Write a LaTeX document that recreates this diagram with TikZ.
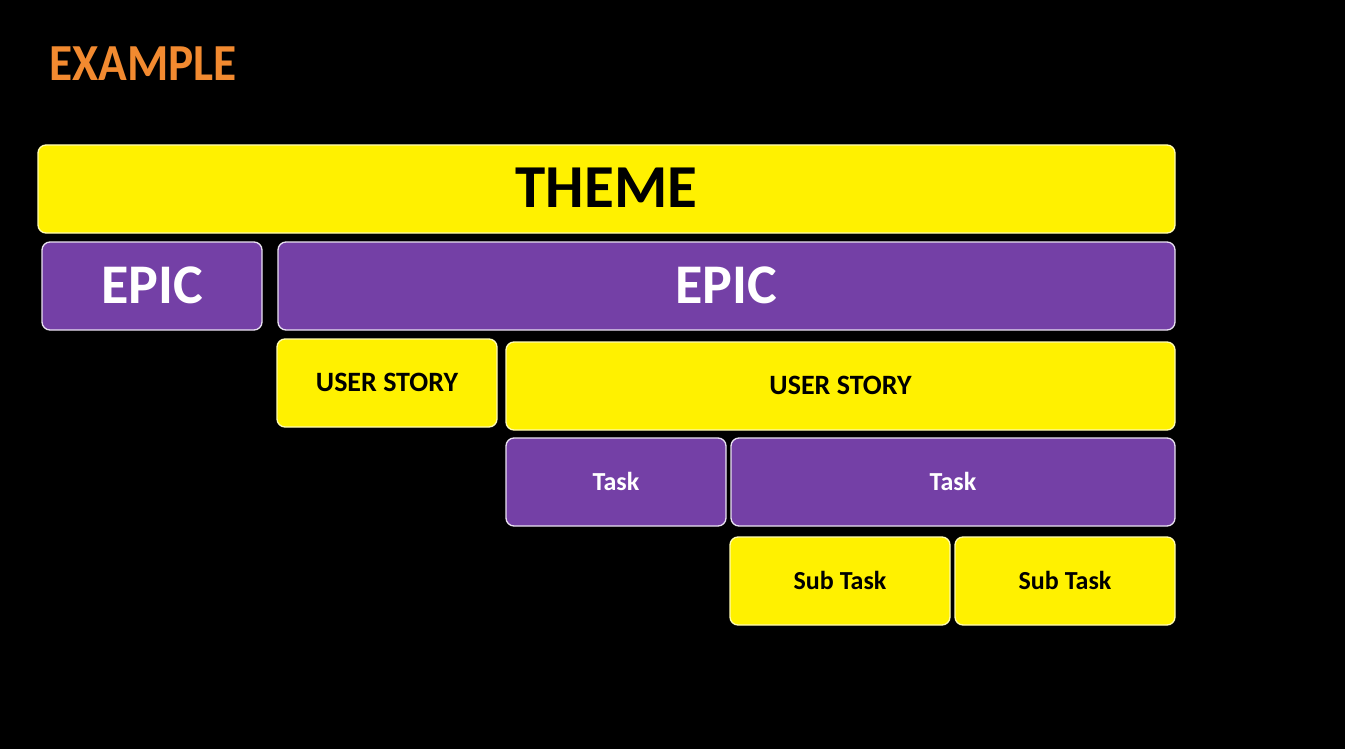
\documentclass[tikz,border=0pt]{standalone}
\usepackage{fontspec}
\setmainfont{Carlito}
\definecolor{boxyellow}{HTML}{FFF100}
\definecolor{boxpurple}{HTML}{7440A6}
\definecolor{titleorange}{HTML}{F28A30}
\newcommand{\lift}[1]{\raisebox{1.8pt}{#1}}
\begin{document}
\begin{tikzpicture}[x=1pt,y=-1pt,
  block/.style={rounded corners=8pt, line width=1.3pt, inner sep=0pt,
    minimum height=88pt, font=\bfseries},
  ylw/.style={block, fill=boxyellow, draw=white!70!boxyellow, text=black},
  prp/.style={block, fill=boxpurple, draw=white!85!boxpurple, text=white}]
  % page
  \fill[black] (0,0) rectangle (1345,749);
  \useasboundingbox (0,0) rectangle (1345,749);

  % heading
  \node[anchor=west, text=titleorange, inner sep=0pt] (title) at (49,64)
    {\scalebox{0.91}[1]{\fontsize{52}{52}\selectfont\bfseries EXAMPLE}};

  % hierarchy levels
  \node[ylw, minimum width=1137pt, font=\fontsize{61}{61}\selectfont\bfseries] (theme) at (606.5,189) {\lift{THEME}};

  \node[prp, minimum width=220pt, font=\fontsize{56}{56}\selectfont\bfseries] (epicA) at (152,286) {\lift{EPIC}};
  \node[prp, minimum width=897pt, font=\fontsize{56}{56}\selectfont\bfseries] (epicB) at (726.5,286) {\lift{EPIC}};

  \node[ylw, minimum width=220pt, font=\fontsize{28}{28}\selectfont\bfseries] (storyA) at (387,383) {\lift{USER STORY}};
  \node[ylw, minimum width=669pt, font=\fontsize{28}{28}\selectfont\bfseries] (storyB) at (840.5,386) {\lift{USER STORY}};

  \node[prp, minimum width=220pt, font=\fontsize{26}{26}\selectfont\bfseries] (taskA) at (616,482) {\lift{Task}};
  \node[prp, minimum width=444pt, font=\fontsize{26}{26}\selectfont\bfseries] (taskB) at (953,482) {\lift{Task}};

  \node[ylw, minimum width=220pt, font=\fontsize{26}{26}\selectfont\bfseries] (subA) at (840,581) {\lift{Sub Task}};
  \node[ylw, minimum width=220pt, font=\fontsize{26}{26}\selectfont\bfseries] (subB) at (1065,581) {\lift{Sub Task}};
\end{tikzpicture}
\end{document}
